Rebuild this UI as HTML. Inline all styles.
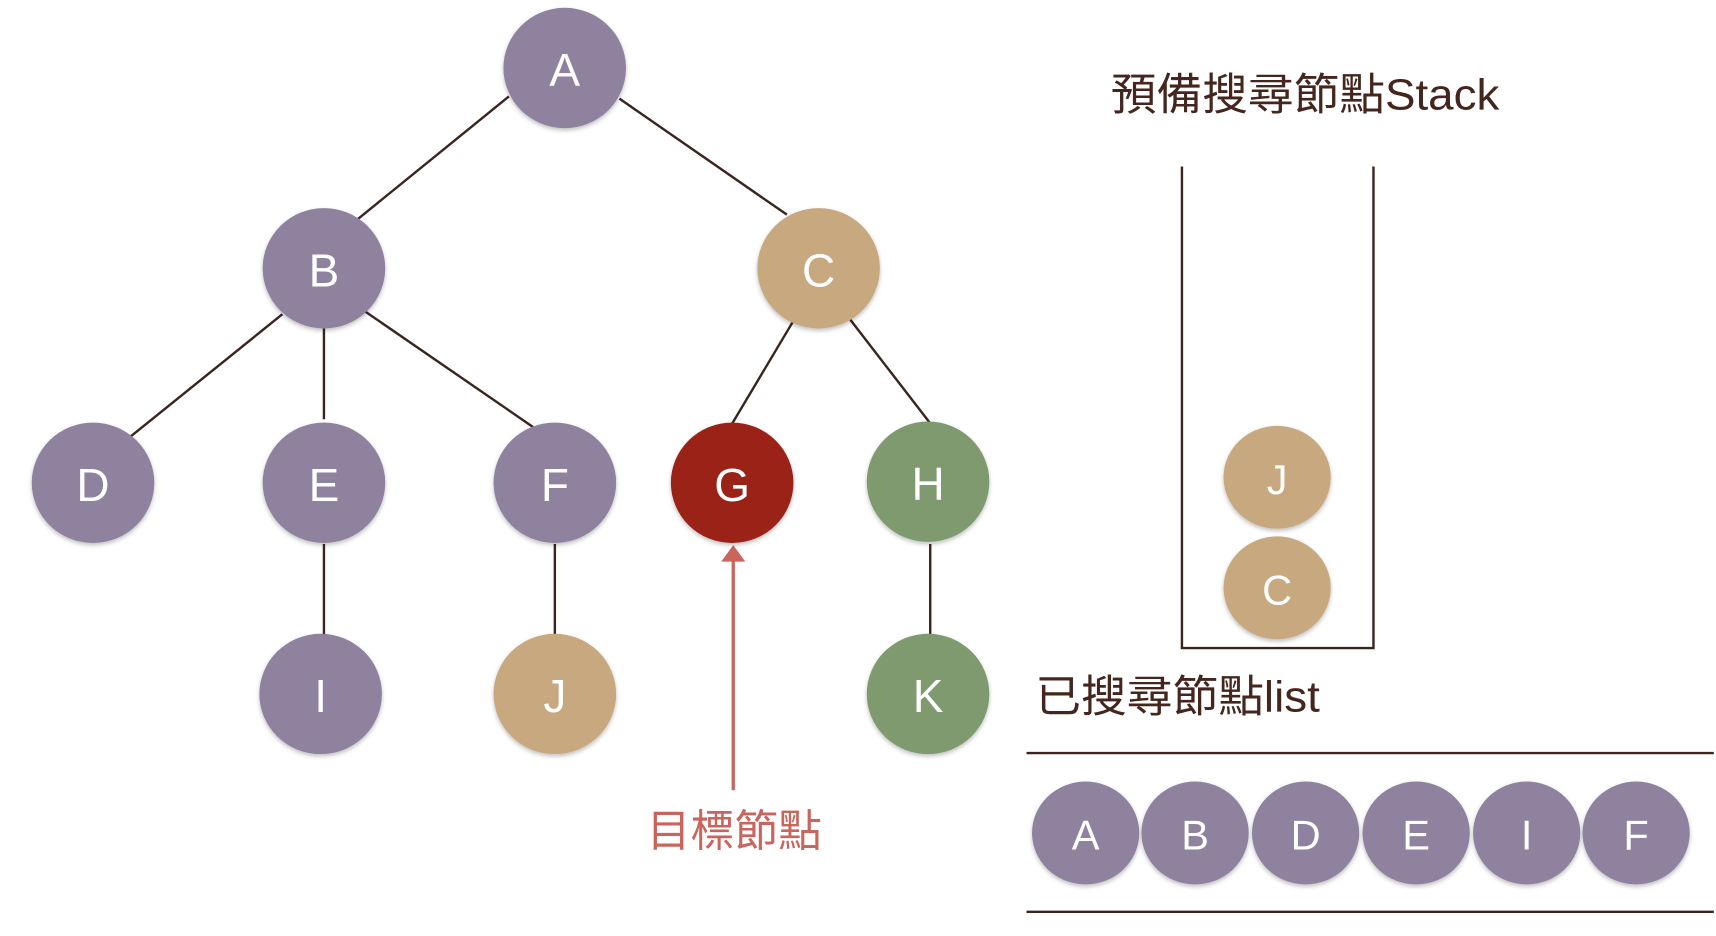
<!DOCTYPE html>
<html><head><meta charset="utf-8"><style>
html,body{margin:0;padding:0;background:#fff;}
svg{display:block}
text{font-family:"Liberation Sans","Noto Sans CJK TC",sans-serif;}
.n{fill:#fff;font-size:42px;text-anchor:middle;dominant-baseline:central}
.s{font-size:38px}
</style></head><body>
<svg width="1716" height="936" viewBox="0 0 1568 855" xmlns="http://www.w3.org/2000/svg">
<defs><filter id="sh" x="-20%" y="-20%" width="140%" height="140%"><feDropShadow dx="0" dy="2" stdDeviation="2" flood-color="#000" flood-opacity="0.25"/></filter></defs>
<g stroke="#3a2420" stroke-width="2.2" fill="none">
<line x1="465" y1="88" x2="327" y2="200"/>
<line x1="566" y1="90" x2="719" y2="196"/>
<line x1="258" y1="287" x2="119" y2="399"/>
<line x1="296" y1="300" x2="296" y2="383"/>
<line x1="333" y1="284" x2="487" y2="390"/>
<line x1="725" y1="293" x2="669" y2="387"/>
<line x1="777" y1="292" x2="851" y2="388"/>
<line x1="296" y1="497" x2="296" y2="580"/>
<line x1="507" y1="497" x2="507" y2="580"/>
<line x1="850" y1="497" x2="850" y2="580"/>
<polyline points="1080,152 1080,592 1255,592 1255,152"/>
<line x1="938" y1="688" x2="1566" y2="688"/>
<line x1="938" y1="833" x2="1566" y2="833"/>
</g>
<line x1="670" y1="512" x2="670" y2="722" stroke="#c9655d" stroke-width="3"/>
<polygon points="670,498 659,513 681,513" fill="#c9655d"/>
<g filter="url(#sh)">
<ellipse cx="516" cy="62" rx="56" ry="55" fill="#8e829f"/>
<ellipse cx="296" cy="245" rx="56" ry="55" fill="#8e829f"/>
<ellipse cx="748" cy="245" rx="56" ry="55" fill="#c8a87f"/>
<ellipse cx="85" cy="441" rx="56" ry="55" fill="#8e829f"/>
<ellipse cx="296" cy="441" rx="56" ry="55" fill="#8e829f"/>
<ellipse cx="507" cy="441" rx="56" ry="55" fill="#8e829f"/>
<ellipse cx="669" cy="441" rx="56" ry="55" fill="#9a2318"/>
<ellipse cx="848" cy="440" rx="56" ry="55" fill="#7e9a6e"/>
<ellipse cx="293" cy="634" rx="56" ry="55" fill="#8e829f"/>
<ellipse cx="507" cy="634" rx="56" ry="55" fill="#c8a87f"/>
<ellipse cx="848" cy="634" rx="56" ry="55" fill="#7e9a6e"/>
<ellipse cx="1167" cy="436" rx="49" ry="47" fill="#c8a87f"/>
<ellipse cx="1167" cy="537" rx="49" ry="47" fill="#c8a87f"/>
<ellipse cx="992" cy="761" rx="49" ry="47" fill="#8e829f"/>
<ellipse cx="1092" cy="761" rx="49" ry="47" fill="#8e829f"/>
<ellipse cx="1193" cy="761" rx="49" ry="47" fill="#8e829f"/>
<ellipse cx="1294" cy="761" rx="49" ry="47" fill="#8e829f"/>
<ellipse cx="1395" cy="761" rx="49" ry="47" fill="#8e829f"/>
<ellipse cx="1495" cy="761" rx="49" ry="47" fill="#8e829f"/>
</g>
<text class="n" x="516" y="64">A</text>
<text class="n" x="296" y="247">B</text>
<text class="n" x="748" y="247">C</text>
<text class="n" x="85" y="443">D</text>
<text class="n" x="296" y="443">E</text>
<text class="n" x="507" y="443">F</text>
<text class="n" x="669" y="443">G</text>
<text class="n" x="848" y="442">H</text>
<text class="n" x="293" y="636">I</text>
<text class="n" x="507" y="636">J</text>
<text class="n" x="848" y="636">K</text>
<text class="n s" x="1167" y="438">J</text>
<text class="n s" x="1167" y="539">C</text>
<text class="n s" x="992" y="763">A</text>
<text class="n s" x="1092" y="763">B</text>
<text class="n s" x="1193" y="763">D</text>
<text class="n s" x="1294" y="763">E</text>
<text class="n s" x="1395" y="763">I</text>
<text class="n s" x="1495" y="763">F</text>
<text x="1015" y="100" font-size="40" fill="#45261e" textLength="355" lengthAdjust="spacingAndGlyphs">預備搜尋節點Stack</text>
<text x="946" y="650" font-size="40" fill="#45261e" textLength="260" lengthAdjust="spacingAndGlyphs">已搜尋節點list</text>
<text x="591" y="773" font-size="40" fill="#c9655d" textLength="160" lengthAdjust="spacingAndGlyphs">目標節點</text>
</svg>
</body></html>
